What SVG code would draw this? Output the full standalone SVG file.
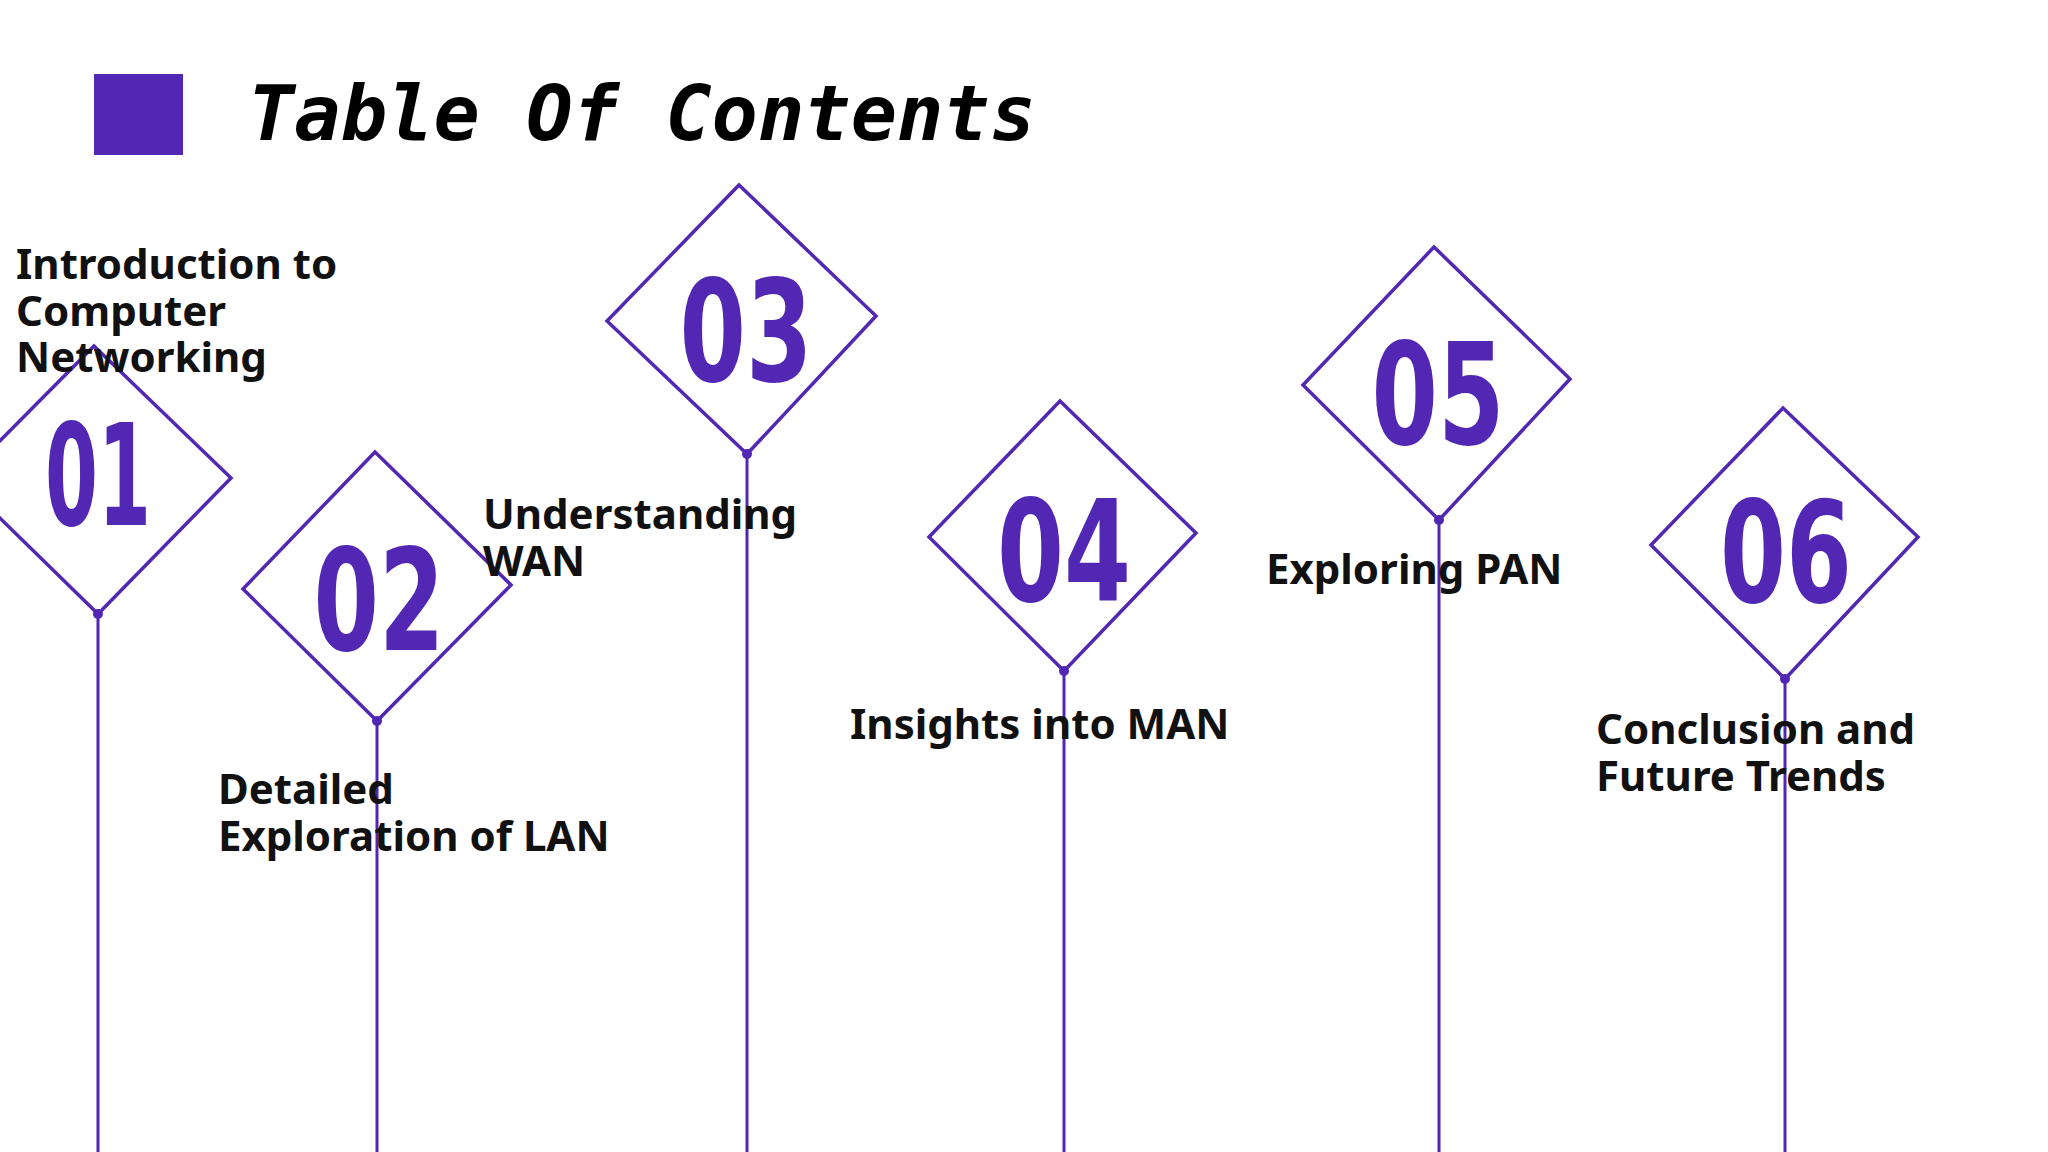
<svg xmlns="http://www.w3.org/2000/svg" width="2048" height="1152" viewBox="0 0 2048 1152">
<style>
.d{fill:none;stroke:#5227B4;stroke-width:3.5}
.l{stroke:#5227B4;stroke-width:3}
.n{font-family:"DejaVu Sans Condensed","DejaVu Sans",sans-serif;font-weight:bold;font-size:140px;fill:#5227B4;text-anchor:middle}
.t{font-family:"Noto Sans",sans-serif;font-weight:bold;font-size:42px;fill:#111}
</style>
<rect width="2048" height="1152" fill="#fff"/>
<rect x="94" y="74" width="89" height="81" fill="#5227B4"/>
<text x="248" y="140" font-family="DejaVu Sans Mono,monospace" font-weight="bold" font-style="italic" font-size="77" fill="#000">Table Of Contents</text>
<g id="connectors">
<line class="l" x1="98" y1="614" x2="98" y2="1152"/><circle cx="98" cy="614" r="5" fill="#5227B4"/>
<line class="l" x1="377" y1="721" x2="377" y2="1152"/><circle cx="377" cy="721" r="5" fill="#5227B4"/>
<line class="l" x1="747" y1="454" x2="747" y2="1152"/><circle cx="747" cy="454" r="5" fill="#5227B4"/>
<line class="l" x1="1064" y1="671" x2="1064" y2="1152"/><circle cx="1064" cy="671" r="5" fill="#5227B4"/>
<line class="l" x1="1439" y1="520" x2="1439" y2="1152"/><circle cx="1439" cy="520" r="5" fill="#5227B4"/>
<line class="l" x1="1785" y1="679" x2="1785" y2="1152"/><circle cx="1785" cy="679" r="5" fill="#5227B4"/>
</g>
<g id="n1"><path class="d" d="M94 346 L231 478 L98 614 L-39 480 Z"/><text class="n" x="98" y="525" textLength="106" lengthAdjust="spacingAndGlyphs">01</text><text class="t" x="16" y="279">Introduction to</text><text class="t" x="16" y="326">Computer</text><text class="t" x="16" y="372">Networking</text></g>
<g id="n2"><path class="d" d="M375 452 L511 585 L377 721 L243 589 Z"/><text class="n" x="379" y="650" textLength="131" lengthAdjust="spacingAndGlyphs">02</text><text class="t" x="218" y="804">Detailed</text><text class="t" x="218" y="851">Exploration of LAN</text></g>
<g id="n3"><path class="d" d="M739 185 L876 316 L747 454 L607 321 Z"/><text class="n" x="746" y="381" textLength="133" lengthAdjust="spacingAndGlyphs">03</text><text class="t" x="483" y="529">Understanding</text><text class="t" x="483" y="576">WAN</text></g>
<g id="n4"><path class="d" d="M1060 401 L1196 533 L1064 671 L929 537 Z"/><text class="n" x="1064" y="601" textLength="134" lengthAdjust="spacingAndGlyphs">04</text><text class="t" x="850" y="739">Insights into MAN</text></g>
<g id="n5"><path class="d" d="M1434 247 L1570 379 L1439 520 L1303 385 Z"/><text class="n" x="1438" y="444" textLength="133" lengthAdjust="spacingAndGlyphs">05</text><text class="t" x="1266" y="584">Exploring PAN</text></g>
<g id="n6"><path class="d" d="M1783 408 L1918 537 L1785 679 L1651 545 Z"/><text class="n" x="1786" y="602" textLength="132" lengthAdjust="spacingAndGlyphs">06</text><text class="t" x="1596" y="744">Conclusion and</text><text class="t" x="1596" y="791">Future Trends</text></g>
</svg>
